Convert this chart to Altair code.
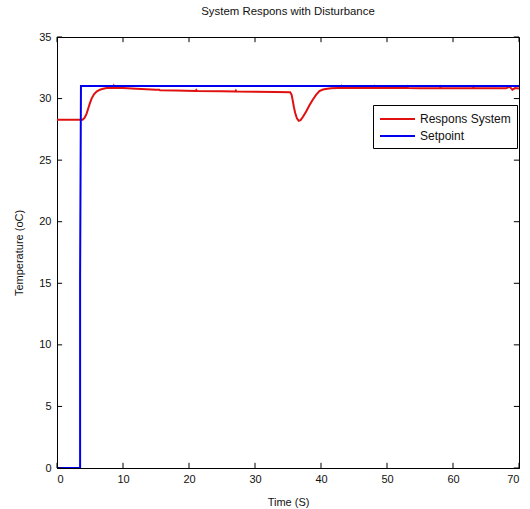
import altair as alt
import pandas as pd

# Response of the system (red)
time_resp = [0, 3.88, 4.2, 4.5, 4.73, 5.0, 5.24, 5.6, 6.0, 6.5, 7.0, 7.5, 8.5, 8.6, 8.7, 10, 12, 15, 15.5, 15.6, 18, 21, 21.1, 21.2, 25, 27, 27.1, 27.2, 30, 33, 35.33,
             35.55, 35.73, 35.9, 36.1, 36.35, 36.63, 36.9, 37.25, 37.75, 38.25, 38.75, 39.25, 39.76, 40.3, 40.97, 41.5,
             42.5, 43, 43.1, 43.2, 45, 48, 48.1, 48.2, 50, 53, 53.1, 53.2, 55, 58, 58.1, 58.2, 60, 63, 63.1, 63.2, 65,
             68, 68.6, 69.0, 69.4, 70]
temp_resp = [28.28, 28.28, 28.45, 28.8, 29.2, 29.65, 30.0, 30.35, 30.57, 30.72, 30.8, 30.85, 30.85, 31.0, 30.85, 30.85, 30.8, 30.72, 30.72, 30.68, 30.66, 30.62, 30.7, 30.62, 30.6, 30.57, 30.65, 30.57, 30.55, 30.53, 30.52,
             30.3, 29.8, 29.3, 28.8, 28.4, 28.2, 28.25, 28.5, 28.95, 29.45, 29.9, 30.3, 30.6, 30.73, 30.8, 30.83,
             30.85, 30.85, 30.98, 30.85, 30.85, 30.85, 30.97, 30.85, 30.85, 30.85, 30.96, 30.85, 30.83, 30.83, 30.95, 30.83, 30.83, 30.83, 30.95, 30.83, 30.83,
             30.83, 30.95, 30.72, 30.85, 30.82]

# Setpoint (blue)
time_sp = [0, 3.5, 3.5, 3.63, 70]
temp_sp = [0, 0, 15.5, 31.03, 31.03]

x_ticks = [0, 10, 20, 30, 40, 50, 60, 70]
y_ticks = [0, 5, 10, 15, 20, 25, 30, 35]

series_names = ["Respons System", "Setpoint"]
series_colors = ["#e01010", "#0000ee"]

resp = pd.DataFrame({"t": time_resp, "v": temp_resp, "series": series_names[0], "i": range(len(time_resp))})
sp = pd.DataFrame({"t": time_sp, "v": temp_sp, "series": series_names[1], "i": range(len(time_sp))})
df = pd.concat([resp, sp], ignore_index=True)

FONT = "Liberation Sans"

xscale = alt.Scale(domain=[0, 70], nice=False, zero=False)
yscale = alt.Scale(domain=[0, 35], nice=False, zero=False)

lines = alt.Chart(df).mark_line(strokeWidth=2, clip=True).encode(
    x=alt.X("t:Q", scale=xscale,
            axis=alt.Axis(values=x_ticks, title="Time (S)", ticks=False, grid=False,
                          labelPadding=5, titlePadding=12, domainColor="black")),
    y=alt.Y("v:Q", scale=yscale,
            axis=alt.Axis(values=y_ticks, title="Temperature (oC)", ticks=False, grid=False,
                          labelPadding=6, titlePadding=14, domainColor="black")),
    color=alt.Color("series:N", scale=alt.Scale(domain=series_names, range=series_colors),
                    legend=alt.Legend(title=None, orient="none", legendX=316, legendY=68,
                                      symbolType="M-1,0H4", symbolSize=196, symbolStrokeWidth=2,
                                      strokeColor="black", fillColor="white", padding=6,
                                      labelFontSize=12, labelFont=FONT, labelColor="#111",
                                      labelOffset=25, rowPadding=3, offset=0)),
    order=alt.Order("i:Q"),
)

# inward ticks on all four sides
xt = pd.DataFrame({"t": x_ticks})
yt = pd.DataFrame({"v": y_ticks})
tick_len_y = 0.42  # in data units of y (vertical ticks on x axes)
tick_len_x = 0.78  # in data units of x (horizontal ticks on y axes)

bottom_ticks = alt.Chart(xt).mark_rule(color="black", strokeWidth=1).encode(
    x=alt.X("t:Q", scale=xscale), y=alt.datum(0, scale=yscale), y2=alt.datum(tick_len_y))
top_ticks = alt.Chart(xt).mark_rule(color="black", strokeWidth=1).encode(
    x=alt.X("t:Q", scale=xscale), y=alt.datum(35, scale=yscale), y2=alt.datum(35 - tick_len_y))
left_ticks = alt.Chart(yt).mark_rule(color="black", strokeWidth=1).encode(
    y=alt.Y("v:Q", scale=yscale), x=alt.datum(0, scale=xscale), x2=alt.datum(tick_len_x))
right_ticks = alt.Chart(yt).mark_rule(color="black", strokeWidth=1).encode(
    y=alt.Y("v:Q", scale=yscale), x=alt.datum(70, scale=xscale), x2=alt.datum(70 - tick_len_x))

chart = alt.layer(lines, bottom_ticks, top_ticks, left_ticks, right_ticks).properties(
    width=462, height=431,
    title=alt.TitleParams("System Respons with Disturbance", fontSize=11.4, font=FONT,
                          fontWeight="normal", color="#111", offset=14),
    autosize=alt.AutoSizeParams(type="none"),
    padding={"left": 57, "top": 37, "right": 11, "bottom": 41},
    background="white",
).configure_view(stroke="black", strokeWidth=1).configure_axis(
    labelFont=FONT, labelFontSize=11, labelColor="#111",
    titleFont=FONT, titleFontSize=11, titleColor="#111", titleFontWeight="normal",
    domainWidth=1,
)

chart.save("out.html", embed_options={"renderer": "svg", "actions": False})
